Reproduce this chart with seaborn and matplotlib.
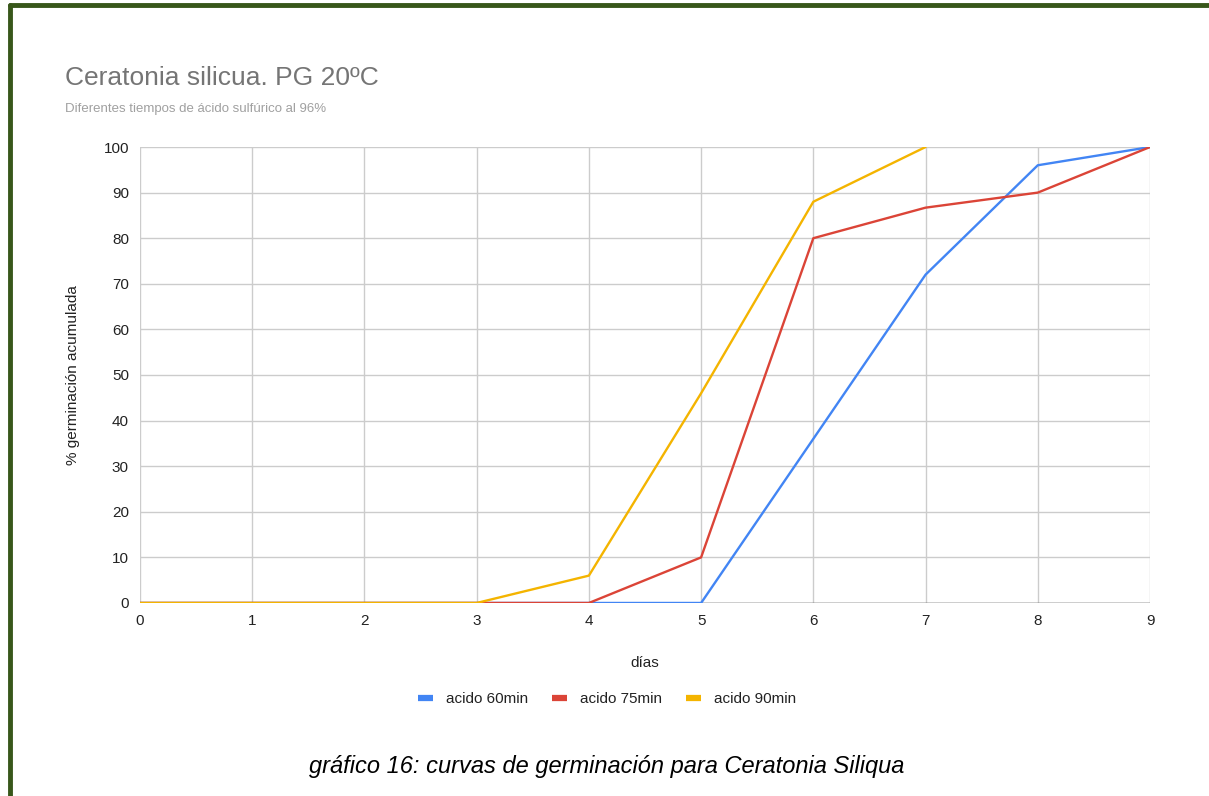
import matplotlib
matplotlib.use("Agg")
import matplotlib.pyplot as plt
from matplotlib.lines import Line2D
import numpy as np
import pandas as pd
import seaborn as sns

dias = [0, 1, 2, 3, 4, 5, 6, 7, 8, 9]
acido_60 = [0, 0, 0, 0, 0, 0, 36, 72, 96, 100]
acido_75 = [0, 0, 0, 0, 0, 10, 80, 86.7, 90, 100]
acido_90 = [0, 0, 0, 0, 6, 46, 88, 100, np.nan, np.nan]
series = ['acido 60min', 'acido 75min', 'acido 90min']
colores = ['#4285F4', '#DB4437', '#F4B400']

df = pd.DataFrame({'días': dias * 3,
                   'valor': acido_60 + acido_75 + acido_90,
                   'serie': [s for s in series for _ in dias]}).dropna()

sns.set_theme(style='white')
plt.rcParams['font.family'] = ['Liberation Sans', 'DejaVu Sans']

fig = plt.figure(figsize=(12.09, 7.96), dpi=100)
ax = fig.add_axes([0.1158, 0.2425, 0.9512 - 0.1158, 0.8153 - 0.2425])

sns.lineplot(data=df, x='días', y='valor', hue='serie', palette=colores,
             linewidth=1.7, ax=ax, legend=False, zorder=3)

ax.set_xlim(0, 9)
ax.set_ylim(0, 100)
ax.set_xticks(range(0, 10))
ax.set_yticks(range(0, 101, 10))
ax.grid(True, color='#cccccc', linewidth=1)
for s in ax.spines.values():
    s.set_visible(False)
ax.axhline(0, color='#333333', linewidth=1, zorder=2)
ax.tick_params(axis='both', length=0, labelsize=11, colors='#222222', pad=8)
ax.set_xlabel('días', fontsize=11, color='#222222', labelpad=20)
ax.set_ylabel('% germinación acumulada', fontsize=11, color='#222222', labelpad=17)

fig.text(0.054, 0.893, 'Ceratonia silicua. PG 20ºC', fontsize=19, color='#757575')
fig.text(0.054, 0.859, 'Diferentes tiempos de ácido sulfúrico al 96%', fontsize=9.5, color='#a0a0a0')

handles = [Line2D([0], [0], color=c, linewidth=4.5, solid_capstyle='butt') for c in colores]
fig.legend(handles, series, loc='center', bbox_to_anchor=(0.502, 0.122), ncol=3,
           frameon=False, fontsize=11, handlelength=1.0, handletextpad=0.8,
           columnspacing=1.6, labelcolor='#222222')

fig.text(0.502, 0.029, 'gráfico 16: curvas de germinación para Ceratonia Siliqua',
         fontsize=17, style='italic', ha='center', color='#000000')

# marco verde
fig.add_artist(Line2D([0.0083, 0.0083], [0, 0.9935], color='#38571A', linewidth=3.5, transform=fig.transFigure))
fig.add_artist(Line2D([0.0083, 1], [0.9935, 0.9935], color='#38571A', linewidth=3.5, transform=fig.transFigure))

fig.savefig('out.png', dpi=100, facecolor='white')
